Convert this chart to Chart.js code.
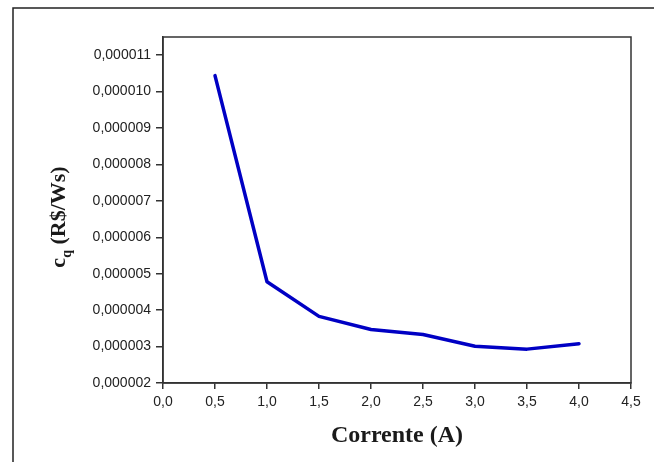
<!DOCTYPE html>
<html>
<head>
<meta charset="utf-8">
<script src="https://cdn.jsdelivr.net/npm/chart.js@4"></script>
<style>
  html, body { margin: 0; padding: 0; background: #fff; }
  #wrap { width: 654px; height: 462px; position: relative; }
</style>
</head>
<body>
<div id="wrap"><canvas id="chart" width="654" height="462"></canvas></div>
<script>
// Corrente (A) vs custo c_q (R$/Ws)
const currents = [0.5, 1.0, 1.5, 2.0, 2.5, 3.0, 3.5, 4.0];
const costs = [0.00001044, 0.00000478, 0.00000383, 0.00000347, 0.00000333, 0.00000301, 0.00000293, 0.00000308];

const xTitle = 'Corrente (A)';
const yTitleMain = 'c';
const yTitleSub = 'q';
const yTitleRest = ' (R$/Ws)';

const axisColor = '#333';
const tickFont = { family: '"Liberation Sans", Arial, sans-serif', size: 14 };

// frame lines, plot box and the two axis titles
const decorations = {
  id: 'decorations',
  afterDraw(chart) {
    const ctx = chart.ctx;
    const a = chart.chartArea;
    ctx.save();
    // outer figure frame (only top and left are visible)
    ctx.strokeStyle = '#222';
    ctx.lineWidth = 1.5;
    ctx.beginPath();
    ctx.moveTo(13, 462);
    ctx.lineTo(13, 8);
    ctx.lineTo(654, 8);
    ctx.stroke();
    // plot box
    ctx.strokeStyle = axisColor;
    ctx.lineWidth = 1.5;
    ctx.strokeRect(a.left, a.top, a.right - a.left, a.bottom - a.top);

    ctx.fillStyle = '#1a1a1a';
    // x title
    ctx.font = 'bold 24px "Liberation Serif", "Times New Roman", serif';
    ctx.textAlign = 'center';
    ctx.textBaseline = 'alphabetic';
    ctx.fillText(xTitle, (a.left + a.right) / 2, 442);

    // y title, rotated, with subscript q
    const big = 'bold 22px "Liberation Serif", "Times New Roman", serif';
    const small = 'bold 14px "Liberation Serif", "Times New Roman", serif';
    ctx.font = big;
    const w1 = ctx.measureText(yTitleMain).width;
    const w3 = ctx.measureText(yTitleRest).width;
    ctx.font = small;
    const w2 = ctx.measureText(yTitleSub).width;
    const total = w1 + w2 + w3;
    ctx.translate(65, 217);
    ctx.rotate(-Math.PI / 2);
    ctx.textAlign = 'left';
    let x = -total / 2;
    ctx.font = big;
    ctx.fillText(yTitleMain, x, 0);
    x += w1;
    ctx.font = small;
    ctx.fillText(yTitleSub, x, 6);
    x += w2;
    ctx.font = big;
    ctx.fillText(yTitleRest, x, 0);
    ctx.restore();
  }
};

new Chart(document.getElementById('chart'), {
  type: 'line',
  data: {
    datasets: [{
      data: currents.map((c, i) => ({ x: c, y: costs[i] })),
      borderColor: '#0000c4',
      borderWidth: 3.5,
      borderJoinStyle: 'round',
      borderCapStyle: 'round',
      pointRadius: 0,
      tension: 0,
      fill: false
    }]
  },
  options: {
    responsive: false,
    animation: false,
    layout: { padding: { left: 0, top: 37, right: 23, bottom: 0 } },
    plugins: { legend: { display: false }, tooltip: { enabled: false } },
    scales: {
      x: {
        type: 'linear',
        min: 0,
        max: 4.5,
        afterFit(s) { s.height = 79; },
        border: { display: true, color: axisColor, width: 1.5 },
        grid: { drawOnChartArea: false, drawTicks: true, tickLength: 6, color: axisColor, lineWidth: 1.5 },
        ticks: {
          stepSize: 0.5,
          padding: 5,
          color: '#222',
          font: tickFont,
          maxRotation: 0,
          callback: v => v.toFixed(1).replace('.', ',')
        }
      },
      y: {
        min: 0.000002,
        max: 0.0000115,
        afterFit(s) { s.width = 163; },
        border: { display: true, color: axisColor, width: 1.5 },
        grid: { drawOnChartArea: false, drawTicks: true, tickLength: 7, color: axisColor, lineWidth: 1.5 },
        ticks: {
          stepSize: 0.000001,
          includeBounds: false,
          padding: 5,
          color: '#222',
          font: tickFont,
          callback: v => {
            const n = Math.round(v * 1e6);
            return '0,' + String(n).padStart(6, '0');
          }
        }
      }
    }
  },
  plugins: [decorations]
});
</script>
</body>
</html>
